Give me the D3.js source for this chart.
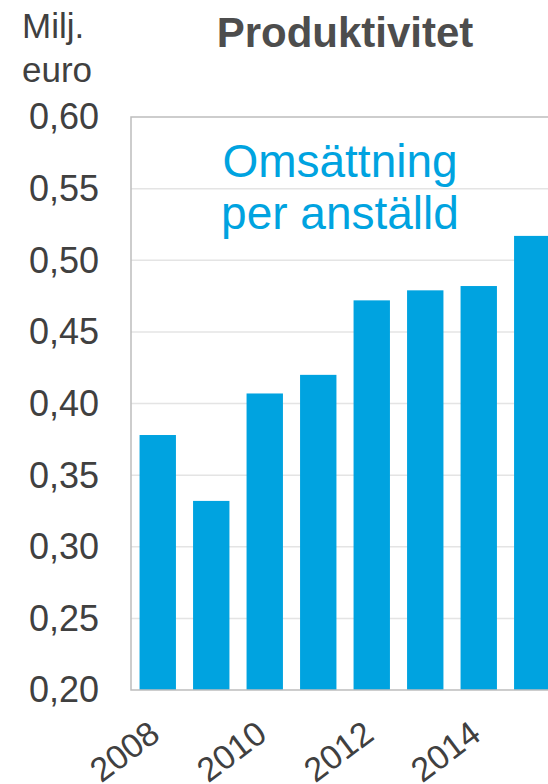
<!DOCTYPE html>
<html>
<head>
<meta charset="utf-8">
<script src="https://cdn.jsdelivr.net/npm/d3@7"></script>
<style>
  body { margin: 0; background: #fff; }
  svg text { font-family: "Liberation Sans", Arial, sans-serif; }
</style>
</head>
<body>
<div id="chart"></div>
<script>
// data
var years = ['2008','2009','2010','2011','2012','2013','2014','2015'];
var values = [0.378, 0.332, 0.407, 0.420, 0.472, 0.479, 0.482, 0.517];
var yTicks = [0.20, 0.25, 0.30, 0.35, 0.40, 0.45, 0.50, 0.55, 0.60];
var xLabels = ['2008','2010','2012','2014'];

var width = 548, height = 784;
var plotLeft = 131, plotTop = 117, plotBottom = 690;
var step = 53.5;

var svg = d3.select('#chart').append('svg')
    .attr('width', width)
    .attr('height', height);

var x = d3.scaleBand()
    .domain(years)
    .range([plotLeft, plotLeft + step * years.length])
    .paddingInner(0.32)
    .paddingOuter(0.16);

var y = d3.scaleLinear()
    .domain([0.20, 0.60])
    .range([plotBottom, plotTop]);

// gridlines
svg.append('g').attr('class', 'grid')
    .selectAll('line')
    .data(yTicks.slice(1, -1)).enter()
    .append('line')
    .attr('x1', plotLeft).attr('x2', width)
    .attr('y1', function(d){ return y(d); })
    .attr('y2', function(d){ return y(d); })
    .style('stroke', '#e4e4e4')
    .style('stroke-width', '1.5px');

// bars
svg.append('g').attr('class', 'bars')
    .selectAll('rect')
    .data(values).enter()
    .append('rect')
    .attr('x', function(d, i){ return x(years[i]); })
    .attr('y', function(d){ return y(d); })
    .attr('width', x.bandwidth())
    .attr('height', function(d){ return y(0.20) - y(d); })
    .style('fill', '#00a3e0');

// frame: top, left, bottom
svg.append('path')
    .attr('d', 'M' + width + ',' + y(0.60) + 'H' + plotLeft + 'V' + y(0.20) + 'H' + width)
    .style('fill', 'none')
    .style('stroke', '#bdbdbd')
    .style('stroke-width', '1.5px');

// y axis labels
var yAxis = d3.axisLeft(y)
    .tickValues(yTicks)
    .tickSize(0)
    .tickPadding(32)
    .tickFormat(function(d){ return d3.format('.2f')(d).replace('.', ','); });

var ya = svg.append('g')
    .attr('transform', 'translate(' + plotLeft + ',0)')
    .call(yAxis);
ya.select('.domain').remove();
ya.selectAll('text')
    .style('font-size', '36px')
    .style('fill', '#404040')
    .attr('dy', '0.33em');

// x axis labels (every other year, rotated)
var xAxis = d3.axisBottom(x)
    .tickValues(xLabels)
    .tickSize(0)
    .tickFormat(function(d){ return d; });

var xa = svg.append('g')
    .attr('transform', 'translate(0,' + plotBottom + ')')
    .call(xAxis);
xa.select('.domain').remove();
xa.selectAll('text')
    .style('font-size', '34px')
    .style('fill', '#404040')
    .style('text-anchor', 'end')
    .attr('dy', null)
    .attr('y', 0)
    .attr('transform', 'translate(4,48) rotate(-37)');

// titles
svg.append('text')
    .attr('x', 345).attr('y', 47)
    .attr('text-anchor', 'middle')
    .style('font-size', '42px')
    .style('font-weight', 'bold')
    .style('fill', '#4d4d4d')
    .text('Produktivitet');

svg.append('text')
    .attr('x', 22).attr('y', 38)
    .style('font-size', '35px')
    .style('fill', '#404040')
    .text('Milj.');

svg.append('text')
    .attr('x', 22).attr('y', 82)
    .style('font-size', '35px')
    .style('fill', '#404040')
    .text('euro');

// annotation inside the plot
svg.append('text')
    .attr('x', 340).attr('y', 177)
    .attr('text-anchor', 'middle')
    .style('font-size', '46px')
    .style('fill', '#00a3e0')
    .text('Omsättning');

svg.append('text')
    .attr('x', 340).attr('y', 229)
    .attr('text-anchor', 'middle')
    .style('font-size', '46px')
    .style('fill', '#00a3e0')
    .text('per anställd');
</script>
</body>
</html>
